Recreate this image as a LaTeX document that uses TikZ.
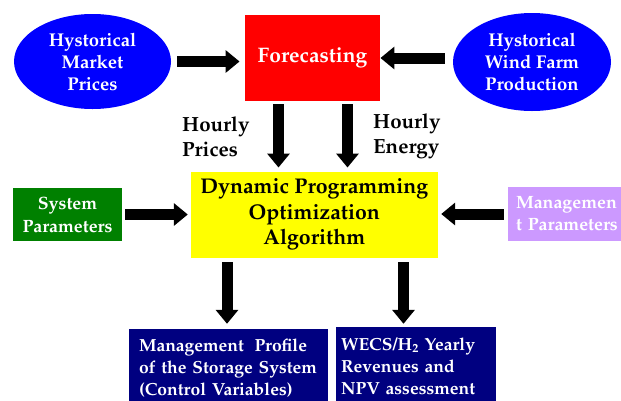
\documentclass[tikz,border=0pt]{standalone}
\usepackage[T1]{fontenc}
\renewcommand{\rmdefault}{ppl}
\usetikzlibrary{arrows.meta,shapes.geometric}
\definecolor{ellblue}{RGB}{0,0,255}
\definecolor{fcred}{RGB}{255,0,0}
\definecolor{dpyellow}{RGB}{255,255,0}
\definecolor{spgreen}{RGB}{0,128,0}
\definecolor{mppurple}{RGB}{204,153,255}
\definecolor{outnavy}{RGB}{0,0,128}
\begin{document}
\begin{tikzpicture}[x=1pt,y=-1pt,
  ell/.style={ellipse, fill=ellblue, text=white, inner sep=0pt, align=center,
    font=\bfseries\fontsize{18.5}{22}\selectfont},
  box/.style={rectangle, inner sep=0pt, align=center},
  lbl/.style={inner sep=0pt, align=left, anchor=west, font=\bfseries\fontsize{20.5}{25}\selectfont},
  outbox/.style={rectangle, fill=outnavy, text=white, align=left, inner ysep=0pt,
    font=\bfseries\fontsize{17.5}{22}\selectfont},
  blk/.style={draw=black, line width=11pt, -{Triangle[length=14pt,width=22pt]}}
]
\useasboundingbox (0,0) rectangle (621,400);

\node[ell, minimum width=157pt, minimum height=95pt] (hmp) at (92.5,61.5) {Hystorical\\Market\\Prices};
\node[ell, minimum width=158pt, minimum height=98pt] (hwf) at (532,62) {Hystorical\\Wind Farm\\Production};
\node[box, fill=fcred, text=white, minimum width=135.5pt, minimum height=86pt,
  font=\bfseries\fontsize{21}{25}\selectfont] (fc) at (312.5,58) {Forecasting};

\node[box, fill=dpyellow, minimum width=247.3pt, minimum height=86pt,
  font=\bfseries\fontsize{21.3}{25.5}\selectfont] (dp) at (314.35,214.7) {Dynamic Programming\\Optimization\\Algorithm};
\node[box, fill=spgreen, text=white, minimum width=109pt, minimum height=53pt,
  font=\bfseries\fontsize{17.8}{23}\selectfont] (sp) at (67.5,214.5) {System\\Parameters};
\node[box, fill=mppurple, text=white, align=left, text width=114pt, inner xsep=8pt,
  minimum height=54pt, font=\bfseries\fontsize{17.8}{22}\selectfont] (mp) at (573,214) {Managemen\\t Parameters};

\node[lbl] (hp) at (182,136.5) {Hourly\\Prices};
\node[lbl] (he) at (373,136.5) {Hourly\\Energy};

\node[outbox, text width=179pt, inner xsep=10pt, minimum height=78pt] (mps) at (228.5,368)
  {Management\hspace{0.6em}Profile\\of the Storage System\\(Control Variables)};
\node[outbox, text width=150pt, inner xsep=5pt, minimum height=78pt] (wecs) at (416,366)
  {WECS/H\textsubscript{2} Yearly\\Revenues and\\NPV assessment};

\coordinate (a1) at ([xshift=-34pt]fc.south);
\coordinate (a2) at ([xshift=35pt]fc.south);
\coordinate (b1) at ([xshift=-87.35pt]dp.south);
\coordinate (b2) at ([xshift=89.15pt]dp.south);

\draw[blk, shorten <=6pt, shorten >=5pt] (hmp.east) -- (hmp.east -| fc.west);
\draw[blk, shorten <=8pt] (fc.east -| hwf.west) -- (fc.east);
\draw[blk, shorten <=3pt, shorten >=4pt] (a1) -- (a1 |- dp.north);
\draw[blk, shorten <=3pt, shorten >=4pt] (a2) -- (a2 |- dp.north);
\draw[blk, shorten <=3pt, shorten >=2.7pt] (sp.east) -- (sp.east -| dp.west);
\draw[blk, shorten <=4.3pt, shorten >=3pt] (mp.west) -- (mp.west -| dp.east);
\draw[blk, shorten <=4.3pt, shorten >=5pt] (b1) -- (b1 |- mps.north);
\draw[blk, shorten <=4.3pt, shorten >=3pt] (b2) -- (b2 |- wecs.north);
\end{tikzpicture}
\end{document}
